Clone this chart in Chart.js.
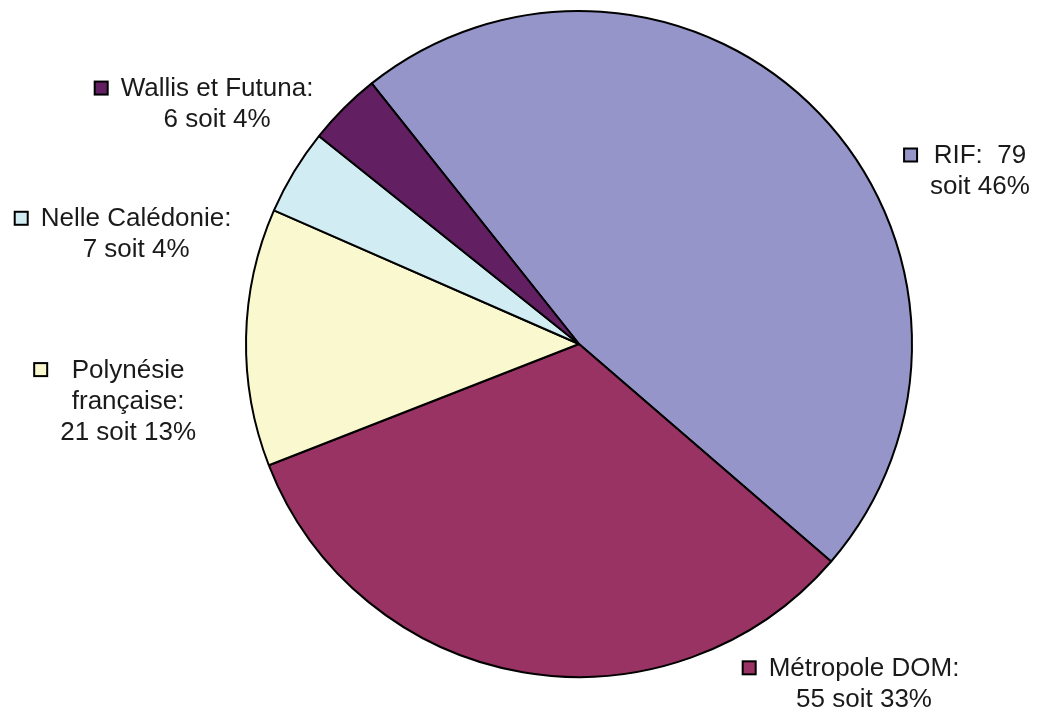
<!DOCTYPE html>
<html>
<head>
<meta charset="utf-8">
<script src="https://cdn.jsdelivr.net/npm/chart.js@4/dist/chart.umd.min.js"></script>
<style>
  body { margin: 0; background: #fff; }
  #wrap { width: 1037px; height: 715px; }
</style>
</head>
<body>
<div id="wrap"><canvas id="chart" width="1037" height="715"></canvas></div>
<script>
const categories = ["RIF", "Métropole DOM", "Polynésie française", "Nelle Calédonie", "Wallis et Futuna"];
const values = [79, 55, 21, 7, 6];
const percents = [46, 33, 13, 4, 4];
// découpage des libellés
const categoryLines = [["RIF:"], ["Métropole DOM:"], ["Polynésie", "française:"], ["Nelle Calédonie:"], ["Wallis et Futuna:"]];
const valueInline = [true, false, false, false, false];

const fillColor = ["#9595c9", "#993364", "#faf8ce", "#d2ecf4", "#621f62"];

// position du centre du bloc de texte, en rayons depuis le centre
const labelAnchor = [
  [1.204, -0.518],
  [0.856, 1.022],
  [-1.354, 0.173],
  [-1.330, -0.328],
  [-1.087, -0.719],
];

function labelLines(i) {
  const lines = categoryLines[i].slice();
  if (valueInline[i]) {
    lines[lines.length - 1] += "  " + values[i];
    lines.push("soit " + percents[i] + "%");
  } else {
    lines.push(values[i] + " soit " + percents[i] + "%");
  }
  return lines;
}

const outsideLabels = {
  id: "outsideLabels",
  afterDatasetsDraw(chart) {
    const ctx = chart.ctx;
    const arcs = chart.getDatasetMeta(0).data;
    const lh = 31;
    const box = 13;
    ctx.save();
    ctx.font = "26px 'Liberation Sans', Arial, sans-serif";
    ctx.textAlign = "center";
    ctx.textBaseline = "middle";
    arcs.forEach(function (arc, i) {
      const r = arc.outerRadius;
      const x = arc.x + labelAnchor[i][0] * r;
      const y = arc.y + labelAnchor[i][1] * r;
      const lines = labelLines(i);
      let w = 0;
      lines.forEach(function (l) { w = Math.max(w, ctx.measureText(l).width); });
      const top = y - (lines.length - 1) * lh / 2;
      ctx.fillStyle = "#1a1a1a";
      lines.forEach(function (l, k) { ctx.fillText(l, x, top + k * lh); });
      // petit carré de légende
      const bx = x - w / 2 - 13 - box;
      const by = top - box / 2 - 1;
      ctx.fillStyle = fillColor[i];
      ctx.fillRect(bx, by, box, box);
      ctx.lineWidth = 2;
      ctx.strokeStyle = "#000";
      ctx.strokeRect(bx, by, box, box);
    });
    ctx.restore();
  },
};

window.onload = function () {
  const ctx = document.getElementById("chart");
  new Chart(ctx, {
    type: "pie",
    data: {
      labels: categories,
      datasets: [
        {
          data: values,
          backgroundColor: fillColor,
          borderColor: "#000",
          borderWidth: 2,
        },
      ],
    },
    options: {
      responsive: false,
      animation: false,
      rotation: -38.5,
      layout: { padding: { left: 239, right: 118, top: 10, bottom: 37 } },
      plugins: {
        legend: { display: false },
        tooltip: { enabled: false },
      },
    },
    plugins: [outsideLabels],
  });
};
</script>
</body>
</html>
